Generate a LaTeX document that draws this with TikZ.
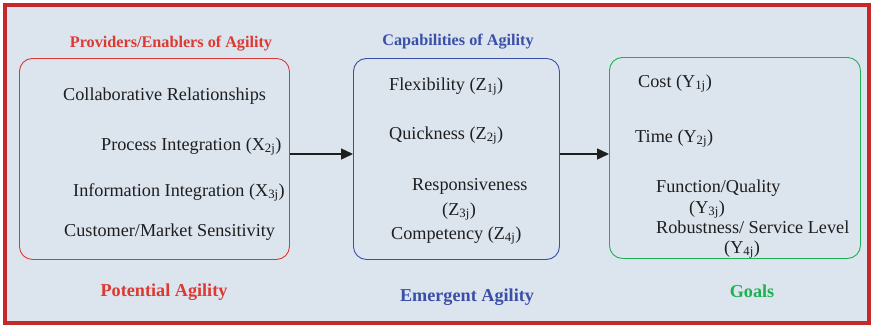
\documentclass[tikz,border=0pt]{standalone}
\usepackage{fontspec}
\setmainfont{Liberation Serif}
\usetikzlibrary{arrows.meta}
\definecolor{framered}{HTML}{C4282A}
\definecolor{bgblue}{HTML}{DCE4EE}
\definecolor{redtxt}{HTML}{DB3A33}
\definecolor{bluetxt}{HTML}{3A4FA8}
\definecolor{greentxt}{HTML}{1DB154}
\definecolor{inktxt}{HTML}{1E1E1E}
\tikzset{
  item/.style={anchor=base west, inner sep=0pt, text=inktxt, font=\fontsize{18.2}{21}\selectfont},
  heading/.style={anchor=base, inner sep=0pt, font=\fontsize{16.2}{19}\selectfont\bfseries},
  footer/.style={anchor=base, inner sep=0pt, font=\fontsize{18.2}{21}\selectfont\bfseries},
  groupbox/.style={draw, line width=0.9pt, rounded corners=13pt},
  flow/.style={line width=1.4pt, draw=inktxt, -{Triangle[length=12pt,width=11pt]}}
}
\begin{document}
\begin{tikzpicture}[x=1pt,y=-1pt]
\useasboundingbox (0,0) rectangle (874,327);
% outer frame
\draw[line width=4pt, draw=framered, fill=bgblue] (5,5) rectangle (869,323);

% three groups
\node[groupbox, draw=redtxt, minimum width=270pt, minimum height=201pt, anchor=north west] (prov) at (19,58) {};
\node[groupbox, draw=bluetxt, minimum width=206pt, minimum height=201pt, anchor=north west] (capa) at (353,58) {};
\node[groupbox, draw=greentxt, minimum width=251pt, minimum height=201pt, anchor=north west] (goal) at (609,57) {};

% headings
\node[heading, text=redtxt] (provh) at (171,47) {Providers/Enablers of Agility};
\node[heading, text=bluetxt] (capah) at (458,45) {Capabilities of Agility};

% providers
\node[item] (x1) at (63,100) {Collaborative Relationships};
\node[item] (x2) at (101,150) {Process Integration (X\textsubscript{2j})};
\node[item] (x3) at (73,196) {Information Integration (X\textsubscript{3j})};
\node[item] (x4) at (64,236) {Customer/Market Sensitivity};

% capabilities
\node[item] (z1) at (389,90) {Flexibility (Z\textsubscript{1j})};
\node[item] (z2) at (389,139) {Quickness (Z\textsubscript{2j})};
\node[item] (z3) at (412,190) {Responsiveness};
\node[item] (z3b) at (442,215) {(Z\textsubscript{3j})};
\node[item] (z4) at (391,239) {Competency (Z\textsubscript{4j})};

% goals
\node[item] (y1) at (638,87) {Cost (Y\textsubscript{1j})};
\node[item] (y2) at (635,142) {Time (Y\textsubscript{2j})};
\node[item] (y3) at (656,192) {Function/Quality};
\node[item] (y3b) at (689,213) {(Y\textsubscript{3j})};
\node[item] (y4) at (656,233) {Robustness/ Service Level};
\node[item] (y4b) at (724,253) {(Y\textsubscript{4j})};

% footers
\node[footer, text=redtxt] (potf) at (164,296) {Potential Agility};
\node[footer, text=bluetxt] (emef) at (467,301) {Emergent Agility};
\node[footer, text=greentxt] (goaf) at (752,297) {Goals};

% flow between groups
\draw[flow] (prov.east |- 0,154) -- (capa.west |- 0,154);
\draw[flow] (capa.east |- 0,154) -- (goal.west |- 0,154);
\end{tikzpicture}
\end{document}
